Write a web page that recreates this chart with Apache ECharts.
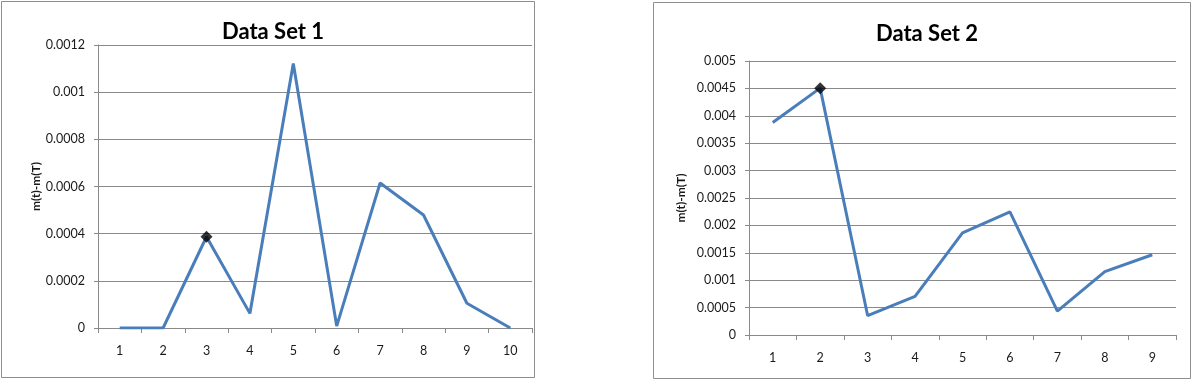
<!DOCTYPE html>
<html>
<head>
<meta charset="utf-8">
<script src="https://cdn.jsdelivr.net/npm/echarts@6/dist/echarts.min.js"></script>
<style>
  html, body { margin: 0; padding: 0; background: #fff; }
  #chart { width: 1201px; height: 389px; }
</style>
</head>
<body>
<div id="chart"></div>
<script>
// ---- Data ----
const titles = ['Data Set 1', 'Data Set 2'];
const yAxisName = 'm(t)-m(T)';
const categories1 = ['1', '2', '3', '4', '5', '6', '7', '8', '9', '10'];
const values1 = [0, 0, 0.000387, 0.000062, 0.001122, 0.000008, 0.000615, 0.000479, 0.000105, 0];
const highlightIndex1 = 2;
const yTicks1 = { min: 0, max: 0.0012, interval: 0.0002 };

const categories2 = ['1', '2', '3', '4', '5', '6', '7', '8', '9'];
const values2 = [0.003877, 0.004505, 0.000355, 0.000705, 0.001865, 0.002245, 0.000435, 0.001155, 0.001465];
const highlightIndex2 = 1;
const yTicks2 = { min: 0, max: 0.005, interval: 0.0005 };

// ---- Styles ----
const FONT = 'Lato';
const LINE_COLOR = '#4a7ebb';
const GRID_COLOR = '#8a8a8a';
const TEXT_COLOR = '#1a1a1a';

const chart = echarts.init(document.getElementById('chart'), null, { renderer: 'canvas' });

function fmt(v) { return String(+v.toFixed(8)); }

function xAxis(idx, cats) {
  return {
    type: 'category', gridIndex: idx, data: cats, boundaryGap: true,
    axisLine: { show: true, lineStyle: { color: GRID_COLOR, width: 1 } },
    axisTick: { show: true, length: 5, inside: false, alignWithLabel: false, lineStyle: { color: GRID_COLOR } },
    axisLabel: { color: TEXT_COLOR, fontFamily: FONT, fontSize: 12.5, margin: 16 },
    splitLine: { show: false }
  };
}
function yAxis(idx, t, gap) {
  return {
    type: 'value', gridIndex: idx, min: t.min, max: t.max, interval: t.interval,
    name: yAxisName, nameLocation: 'middle', nameRotate: 90, nameGap: gap,
    nameTextStyle: { fontFamily: FONT, fontWeight: 'bold', fontSize: 12, color: TEXT_COLOR },
    axisLine: { show: true, lineStyle: { color: GRID_COLOR, width: 1 } },
    axisTick: { show: true, length: 4, inside: false, lineStyle: { color: GRID_COLOR } },
    axisLabel: { color: TEXT_COLOR, fontFamily: FONT, fontSize: 12.5, margin: 13, formatter: fmt },
    splitLine: { show: true, lineStyle: { color: GRID_COLOR, width: 1 } }
  };
}
function lineSeries(idx, vals) {
  return {
    type: 'line', xAxisIndex: idx, yAxisIndex: idx, data: vals,
    symbol: 'none', showSymbol: false, smooth: false,
    lineStyle: { color: LINE_COLOR, width: 3 }, itemStyle: { color: LINE_COLOR },
    silent: true, animation: false, z: 2
  };
}
function markerSeries(idx, vals, hi) {
  return {
    type: 'scatter', xAxisIndex: idx, yAxisIndex: idx,
    data: vals.map((v, i) => (i === hi ? v : '-')),
    symbol: 'diamond', symbolSize: 12, itemStyle: { color: '#000' },
    silent: true, animation: false, z: 3
  };
}

chart.setOption({
  backgroundColor: '#fff',
  animation: false,
  title: [
    { text: titles[0], left: 268, top: 16, textAlign: 'center',
      textStyle: { fontFamily: FONT, fontWeight: 'bold', fontSize: 22, color: '#000' } },
    { text: titles[1], left: 922, top: 18, textAlign: 'center',
      textStyle: { fontFamily: FONT, fontWeight: 'bold', fontSize: 22, color: '#000' } }
  ],
  grid: [
    { left: 98, right: 669, top: 45, bottom: 61, containLabel: false },
    { left: 749, right: 25, top: 61, bottom: 54, containLabel: false }
  ],
  xAxis: [xAxis(0, categories1), xAxis(1, categories2)],
  yAxis: [yAxis(0, yTicks1, 44), yAxis(1, yTicks2, 62)],
  series: [
    lineSeries(0, values1), markerSeries(0, values1, highlightIndex1),
    lineSeries(1, values2), markerSeries(1, values2, highlightIndex2)
  ],
  graphic: [
    { type: 'rect', shape: { x: 1.5, y: 1.5, width: 533, height: 376 },
      style: { fill: null, stroke: '#8e8e8e', lineWidth: 1 }, silent: true, z: -1 },
    { type: 'rect', shape: { x: 653.5, y: 2.5, width: 537, height: 376 },
      style: { fill: null, stroke: '#8e8e8e', lineWidth: 1 }, silent: true, z: -1 }
  ]
});
</script>
</body>
</html>
